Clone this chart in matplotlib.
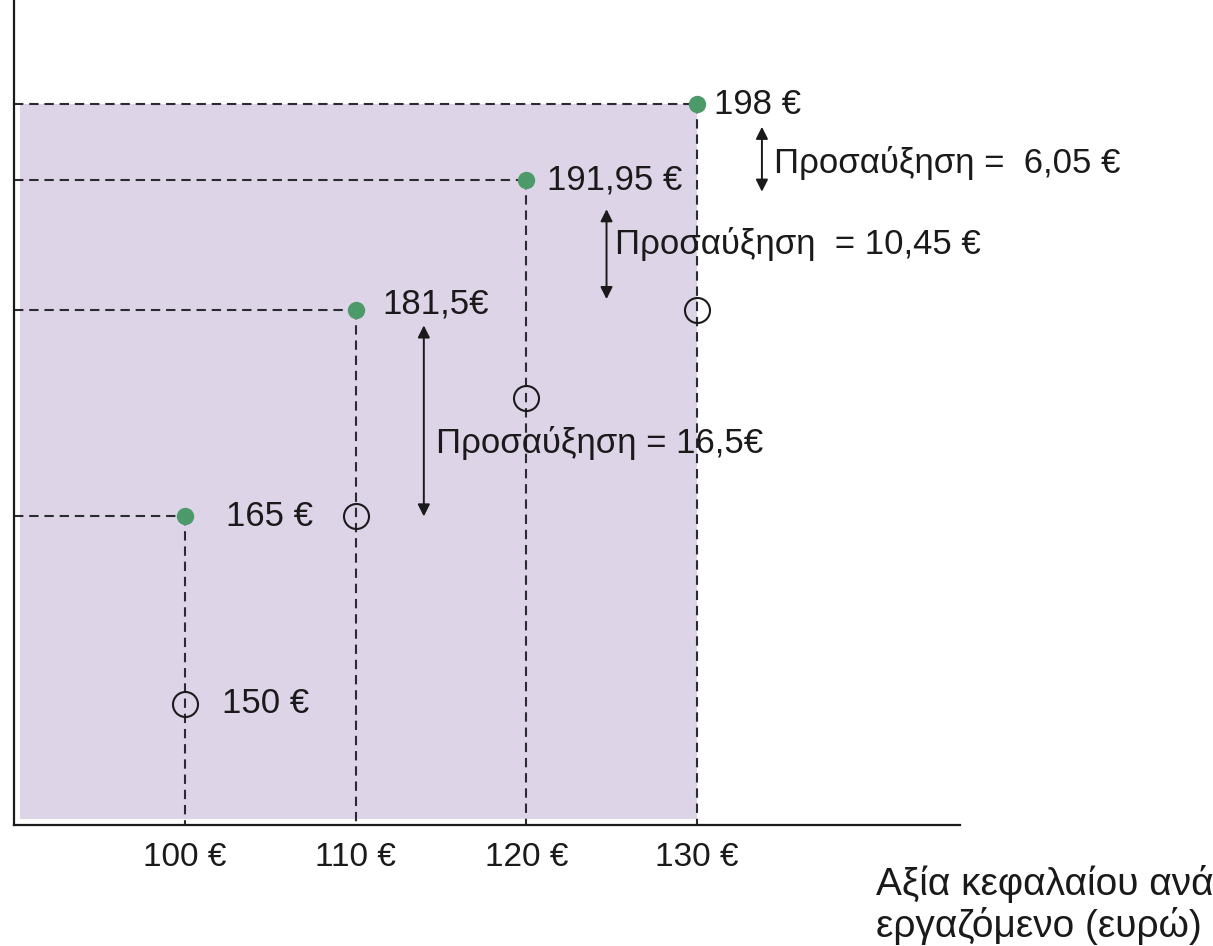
import matplotlib.pyplot as plt
from matplotlib.patches import Rectangle

plt.rcParams['font.family'] = ['Liberation Sans', 'DejaVu Sans']

# ---------------------------------------------------------------------
# Data
# ---------------------------------------------------------------------
capital = [100, 110, 120, 130]                 # κεφάλαιο ανά εργαζόμενο
output_new = [165, 181.5, 191.95, 198]         # πράσινα σημεία
output_old = [150, 165, 174.5, 181.5]          # κενοί κύκλοι
value_labels = ["165 €", "181,5€", "191,95 €", "198 €"]
old_label = "150 €"
tick_labels = ["100 €", "110 €", "120 €", "130 €"]
increase_labels = ["Προσαύξηση = 16,5€", "Προσαύξηση  = 10,45 €",
                   "Προσαύξηση =  6,05 €"]
xlabel = "Αξία κεφαλαίου ανά\nεργαζόμενο (ευρώ)"

xmin, xmax = 90.0, 145.4
ymin, ymax = 140.3, 206.35

purple = "#ded4e8"
green = "#4c9a6a"
dark = "#2b2b33"

fig = plt.figure(figsize=(12.13, 9.46), dpi=100)
ax = fig.add_axes([14 / 1213, 121 / 946, (960 - 14) / 1213, 825 / 946])
ax.set_xlim(xmin, xmax)
ax.set_ylim(ymin, ymax)

# shaded area
ax.add_patch(Rectangle((xmin + 0.35, ymin + 0.45),
                       capital[-1] - xmin - 0.35, output_new[-1] - ymin - 0.45,
                       facecolor=purple, edgecolor="none", zorder=0))

# dashed guides
dash = dict(color=dark, lw=1.5, dashes=(4.5, 2.8), zorder=2)
for x, y in zip(capital, output_new):
    ax.plot([xmin, x], [y, y], **dash)
    ax.plot([x, x], [y, ymin], **dash)

# markers
ax.plot(capital, output_old, "o", ms=18, mfc="none", mec="#1a1a1a", mew=1.5,
        ls="none", zorder=3)
ax.plot(capital, output_new, "o", ms=11.5, color=green, ls="none", zorder=4)

# value labels
fs = 25
label_pos = [(102.4, 165), (111.6, 182.0), (121.2, 191.95), (131.0, 198)]
for (tx, ty), txt in zip(label_pos, value_labels):
    ax.text(tx, ty, txt, fontsize=fs, va="center", ha="left", color="#1a1a1a",
            zorder=5)
ax.text(102.2, output_old[0], old_label, fontsize=fs, va="center", ha="left",
        color="#1a1a1a", zorder=5)

# increase arrows
arrow_x = [114.0, 124.7, 133.8]
arrow_y = [(165.0, 180.3), (182.4, 189.6), (191.0, 196.2)]
for x, (y0, y1) in zip(arrow_x, arrow_y):
    ax.annotate("", xy=(x, y0), xytext=(x, y1),
                arrowprops=dict(arrowstyle="<|-|>", color="#1a1a1a", lw=1.4,
                                mutation_scale=18, shrinkA=0, shrinkB=0),
                zorder=5)

inc_pos = [(114.7, 170.9), (125.2, 186.8), (134.5, 193.3)]
for (tx, ty), txt in zip(inc_pos, increase_labels):
    ax.text(tx, ty, txt, fontsize=25, va="center", ha="left",
            color="#1a1a1a", zorder=5)

# axes
for side in ["top", "right"]:
    ax.spines[side].set_visible(False)
for side in ["left", "bottom"]:
    ax.spines[side].set_linewidth(1.6)
    ax.spines[side].set_color("#1a1a1a")
ax.set_yticks([])
ax.set_xticks(capital)
ax.set_xticklabels(tick_labels, fontsize=24, color="#1a1a1a")
ax.tick_params(axis="x", length=0, pad=12)

fig.text(876 / 1213, 1 - 905 / 946, xlabel, fontsize=28, ha="left", va="center",
         linespacing=1.15, color="#1a1a1a")

fig.savefig("out.png", dpi=100)
